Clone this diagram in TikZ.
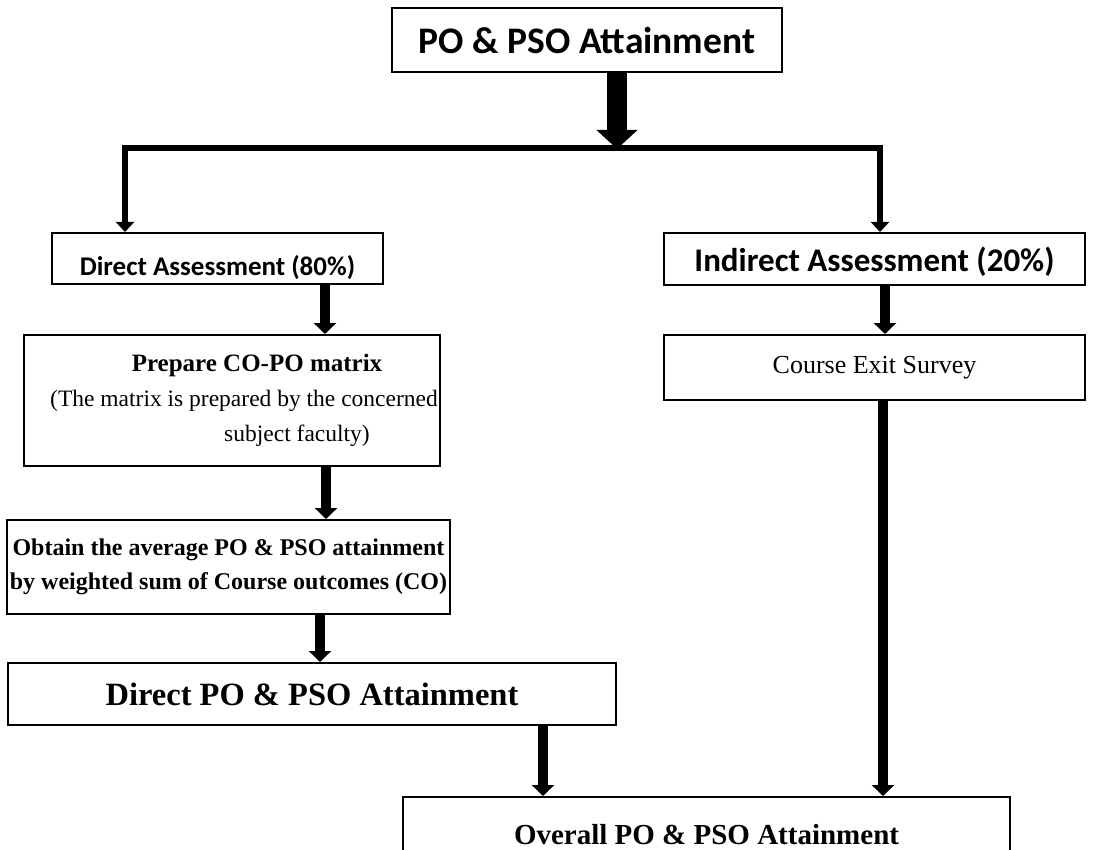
\documentclass[tikz,border=0pt]{standalone}
\usepackage{fontspec}
\setmainfont{Liberation Serif}
\newfontfamily\calib{Carlito}
\usetikzlibrary{arrows.meta}
\tikzset{
  box/.style={draw=black, line width=2pt, minimum width=#1, inner sep=0pt, align=center},
  bigarrow/.style={line width=20pt, -{Triangle[width=40pt,length=19pt]}},
  arr/.style={line width=10pt, -{Triangle[width=22pt,length=11pt]}},
  branch/.style={line width=6pt},
  brarr/.style={line width=6pt, -{Triangle[width=18pt,length=10pt]}}
}
\begin{document}
\begin{tikzpicture}[x=1pt,y=-1pt]
\useasboundingbox (0,0) rectangle (1108,850);
\clip (0,0) rectangle (1108,850);
\fill[white] (0,0) rectangle (1108,850);

\node[box=390pt, minimum height=64pt, font=\calib\bfseries\fontsize{37.5}{42}\selectfont] (top) at (587,40) {PO \& PSO Attainment};
\node[box=331pt, minimum height=51pt, font=\calib\bfseries\fontsize{27}{32}\selectfont] (direct) at (217.5,258.5) {\raisebox{-9pt}[\height][\depth]{Direct Assessment (80\%)}};
\node[box=421pt, minimum height=52pt, font=\calib\bfseries\fontsize{33}{38}\selectfont] (indirect) at (874.5,259) {\raisebox{-3pt}[\height][\depth]{Indirect Assessment (20\%)}};
\node[box=416pt, minimum height=131pt, font=\fontsize{23.5}{35}\selectfont] (prepare) at (232,400.5) {\hspace*{50pt}{\bfseries\fontsize{25}{35}\selectfont Prepare CO-PO matrix}\\\hspace*{24pt}(The matrix is prepared by the concerned\\\hspace*{130pt}subject faculty)};
\node[box=421pt, minimum height=65pt, font=\fontsize{26}{32}\selectfont] (survey) at (874.5,367.5) {Course Exit Survey};
\node[box=443pt, minimum height=94pt, font=\bfseries\fontsize{24}{34}\selectfont] (obtain) at (228.5,567) {Obtain the average PO \& PSO attainment\\by weighted sum of Course outcomes (CO)};
\node[box=608pt, minimum height=62pt, font=\bfseries\fontsize{32.5}{38}\selectfont] (dpo) at (312,694) {Direct PO \& PSO Attainment};
\node[box=607pt, minimum height=90pt, font=\bfseries\fontsize{29}{34}\selectfont, text height=20pt] (overall) at (706.5,842) {\raisebox{8pt}{Overall PO \& PSO Attainment}};

\coordinate (mid) at (617,148);
\coordinate (lj) at (122,148);
\coordinate (rj) at (883,148);

\draw[bigarrow] (top.south -| mid) -- ([yshift=-1pt]mid);
\draw[branch] (lj) -- (rj);
\draw[brarr] ([xshift=3pt]lj) -- ([xshift=3pt]lj |- direct.north);
\draw[brarr] ([xshift=-3pt]rj) -- ([xshift=-3pt]rj |- indirect.north);

\coordinate (a1) at (325,284);
\coordinate (a2) at (885,285);
\coordinate (a3) at (326,466);
\coordinate (a4) at (320,614);
\coordinate (a5) at (543,725);
\coordinate (a6) at (883,400);
\draw[arr] (direct.south -| a1) -- (prepare.north -| a1);
\draw[arr] (indirect.south -| a2) -- (survey.north -| a2);
\draw[arr] (prepare.south -| a3) -- (obtain.north -| a3);
\draw[arr] (obtain.south -| a4) -- (dpo.north -| a4);
\draw[arr] (dpo.south -| a5) -- (overall.north -| a5);
\draw[arr] (survey.south -| a6) -- (overall.north -| a6);
\end{tikzpicture}
\end{document}
